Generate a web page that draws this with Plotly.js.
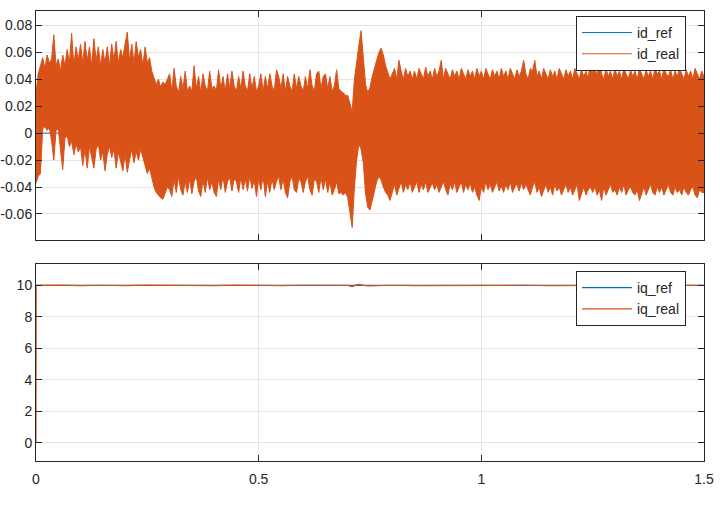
<!DOCTYPE html>
<html>
<head>
<meta charset="utf-8">
<script src="https://cdn.plot.ly/plotly-3.0.1.min.js"></script>
<style>
  html, body { margin: 0; padding: 0; background: #fff; }
  #chart { width: 720px; height: 509px; }
</style>
</head>
<body>
<div id="chart"></div>
<script>
// time grid of the id envelope samples
var tStep = 0.005;

// id_real: upper / lower excursions, one value per 5 ms
var idHi = [
  .030,.044,.050,.056,.048,.058,.052,.055,.073,.050,
  .055,.046,.058,.050,.062,.052,.074,.050,.064,.054,
  .066,.052,.068,.054,.064,.050,.070,.054,.064,.050,
  .062,.052,.064,.050,.066,.054,.068,.052,.062,.056,
  .066,.075,.054,.066,.052,.068,.056,.062,.050,.064,
  .052,.056,.046,.040,.036,.040,.034,.038,.036,.040,
  .044,.031,.048,.035,.030,.042,.033,.046,.031,.035,
  .031,.050,.033,.042,.030,.044,.035,.031,.046,.033,
  .035,.031,.047,.033,.042,.031,.044,.033,.046,.035,
  .031,.042,.033,.046,.035,.031,.044,.033,.042,.031,
  .035,.044,.031,.042,.033,.044,.035,.031,.047,.042,
  .033,.044,.031,.042,.035,.031,.044,.033,.042,.035,
  .031,.042,.033,.047,.035,.031,.044,.046,.033,.042,
  .044,.033,.042,.031,.035,.047,.033,.031,.030,.028,
  .028,.022,.016,.040,.055,.065,.076,.058,.036,.030,
  .034,.042,.048,.055,.060,.063,.058,.050,.044,.040,
  .044,.048,.040,.054,.046,.040,.048,.042,.046,.040,
  .046,.040,.048,.044,.040,.049,.042,.046,.040,.048,
  .042,.046,.054,.040,.048,.044,.040,.047,.042,.046,
  .040,.048,.044,.040,.047,.042,.046,.040,.048,.042,
  .046,.040,.048,.044,.040,.047,.042,.046,.040,.048,
  .042,.046,.040,.048,.044,.040,.047,.042,.046,.054,
  .044,.040,.048,.046,.054,.042,.046,.040,.048,.044,
  .040,.047,.042,.046,.040,.048,.044,.040,.047,.042,
  .046,.040,.048,.044,.040,.047,.042,.046,.040,.056,
  .044,.048,.042,.057,.044,.040,.048,.042,.046,.040,
  .048,.042,.046,.040,.048,.044,.040,.047,.042,.046,
  .040,.048,.044,.040,.047,.042,.046,.040,.048,.044,
  .046,.040,.048,.044,.042,.047,.040,.046,.042,.048,
  .044,.040,.047,.042,.046,.040,.048,.044,.040,.046,
  .042
];
var idLo = [
  -.037,-.032,-.030,.003,.005,.002,.004,-.006,-.020,.002,
  .003,-.012,-.027,-.004,-.002,-.010,-.006,-.016,-.008,-.014,
  -.010,-.024,-.012,-.026,-.010,-.018,-.026,-.012,-.008,-.020,
  -.014,-.028,-.016,-.010,-.018,-.012,-.026,-.014,-.022,-.028,
  -.016,-.029,-.020,-.012,-.022,-.014,-.020,-.012,-.018,-.024,
  -.030,-.026,-.034,-.040,-.044,-.046,-.048,-.049,-.044,-.040,
  -.042,-.047,-.034,-.044,-.032,-.042,-.046,-.036,-.044,-.034,
  -.045,-.036,-.032,-.043,-.047,-.035,-.044,-.033,-.042,-.036,
  -.044,-.047,-.034,-.042,-.032,-.044,-.036,-.033,-.043,-.034,
  -.036,-.044,-.033,-.042,-.034,-.043,-.032,-.041,-.035,-.047,
  -.034,-.042,-.032,-.047,-.036,-.044,-.034,-.042,-.036,-.032,
  -.042,-.034,-.044,-.048,-.036,-.032,-.042,-.044,-.034,-.036,
  -.044,-.036,-.032,-.042,-.046,-.034,-.036,-.044,-.033,-.042,
  -.034,-.044,-.036,-.046,-.042,-.036,-.045,-.044,-.046,-.044,
  -.048,-.060,-.070,-.040,-.020,-.008,-.012,-.022,-.045,-.055,
  -.057,-.050,-.042,-.036,-.032,-.035,-.040,-.044,-.046,-.050,
  -.044,-.038,-.046,-.040,-.036,-.044,-.038,-.042,-.036,-.044,
  -.040,-.036,-.044,-.038,-.042,-.036,-.044,-.040,-.037,-.042,
  -.038,-.044,-.040,-.036,-.042,-.046,-.038,-.042,-.036,-.044,
  -.040,-.036,-.044,-.038,-.042,-.037,-.044,-.040,-.046,-.050,
  -.040,-.044,-.036,-.042,-.038,-.044,-.040,-.036,-.043,-.039,
  -.044,-.038,-.042,-.036,-.044,-.040,-.038,-.043,-.037,-.042,
  -.038,-.042,-.046,-.040,-.036,-.044,-.040,-.047,-.042,-.038,
  -.044,-.040,-.046,-.038,-.043,-.040,-.046,-.042,-.038,-.044,
  -.040,-.046,-.042,-.038,-.050,-.044,-.040,-.046,-.042,-.040,
  -.044,-.040,-.046,-.042,-.050,-.040,-.046,-.042,-.038,-.044,
  -.042,-.046,-.040,-.044,-.038,-.046,-.042,-.040,-.044,-.046,
  -.042,-.050,-.044,-.040,-.046,-.042,-.038,-.044,-.046,-.040,
  -.044,-.040,-.046,-.042,-.038,-.044,-.046,-.040,-.044,-.042,
  -.046,-.040,-.044,-.046,-.042,-.040,-.046,-.048,-.042,-.044,
  -.044
];

// references
var refT = [0, 1.5];
var idRef = [0, 0];
var iqRef = [10, 10];

// iq_real
var iqT = [0, 0.0005, 0.05, 0.1, 0.15, 0.2, 0.25, 0.3, 0.35, 0.4, 0.45, 0.5, 0.55, 0.6, 0.65, 0.7,
  0.705, 0.71, 0.715, 0.72, 0.725, 0.73, 0.74, 0.75, 0.8, 0.85, 0.9, 0.95, 1.0, 1.05, 1.1,
  1.15, 1.2, 1.25, 1.3, 1.35, 1.4, 1.45, 1.5];
var iqReal = [0, 10.0, 10.02, 9.99, 10.01, 9.98, 10.02, 10.0, 10.01, 9.99, 10.02, 10.0, 9.99, 10.01, 10.0, 10.0,
  9.95, 9.92, 9.97, 10.05, 10.07, 10.04, 9.98, 9.97, 10.01, 9.99, 10.0, 10.01, 9.99, 10.0, 10.01,
  9.99, 10.0, 10.01, 9.99, 10.0, 10.01, 10.0, 10.0];

// ticks
var xTicks = [0, 0.5, 1, 1.5];
var xTickText = ["0", "0.5", "1", "1.5"];
var idTicks = [-0.06, -0.04, -0.02, 0, 0.02, 0.04, 0.06, 0.08];
var idTickText = ["-0.06", "-0.04", "-0.02", "0", "0.02", "0.04", "0.06", "0.08"];
var iqTicks = [0, 2, 4, 6, 8, 10];
var iqTickText = ["0", "2", "4", "6", "8", "10"];

var BLUE = "#0072BD";
var ORANGE = "#D95319";
var AXC = "#262626";
var FONT = "Liberation Sans, Arial, sans-serif";

var tId = idHi.map(function (v, i) { return +(i * tStep).toFixed(4); });

function axisBase() {
  return {
    showline: true,
    linecolor: AXC,
    linewidth: 1,
    mirror: "allticks",
    ticks: "inside",
    ticklen: 6,
    tickcolor: AXC,
    tickwidth: 1,
    showgrid: true,
    gridcolor: "#e4e4e4",
    gridwidth: 1,
    zeroline: false,
    fixedrange: true,
    tickfont: { family: FONT, size: 14, color: AXC },
  };
}

var data = [
  {
    x: refT, y: idRef, name: "id_ref", mode: "lines",
    line: { color: BLUE, width: 1 }, xaxis: "x", yaxis: "y", legend: "legend",
  },
  {
    x: tId, y: idHi, name: "id_real", mode: "lines", legendgroup: "idr",
    line: { color: ORANGE, width: 1 }, xaxis: "x", yaxis: "y", legend: "legend",
  },
  {
    x: tId, y: idLo, name: "id_real", mode: "lines", legendgroup: "idr", showlegend: false,
    fill: "tonexty", fillcolor: ORANGE,
    line: { color: ORANGE, width: 1 }, xaxis: "x", yaxis: "y", legend: "legend",
  },
  {
    x: refT, y: iqRef, name: "iq_ref", mode: "lines",
    line: { color: BLUE, width: 1.2 }, xaxis: "x2", yaxis: "y2", legend: "legend2",
  },
  {
    x: iqT, y: iqReal, name: "iq_real", mode: "lines",
    line: { color: ORANGE, width: 1.2 }, xaxis: "x2", yaxis: "y2", legend: "legend2",
  },
];

var xTop = Object.assign(axisBase(), {
  domain: [0, 1], range: [0, 1.5], anchor: "y",
  tickvals: xTicks, showticklabels: false,
});
var yTop = Object.assign(axisBase(), {
  domain: [0.4911, 1], range: [-0.0793, 0.0906], anchor: "x",
  tickvals: idTicks, ticktext: idTickText,
});
var xBot = Object.assign(axisBase(), {
  domain: [0, 1], range: [0, 1.5], anchor: "y2",
  tickvals: xTicks, ticktext: xTickText, ticklabelstandoff: 5,
});
var yBot = Object.assign(axisBase(), {
  domain: [0, 0.4378], range: [-1.16, 11.36], anchor: "x2",
  tickvals: iqTicks, ticktext: iqTickText,
});

var legendBase = {
  xanchor: "right", yanchor: "top",
  bgcolor: "#ffffff", bordercolor: AXC, borderwidth: 1,
  font: { family: FONT, size: 14, color: AXC },
  tracegroupgap: 0,
  itemwidth: 50,
};

var layout = {
  width: 720,
  height: 509,
  margin: { l: 36, r: 16, t: 11, b: 48 },
  paper_bgcolor: "#ffffff",
  plot_bgcolor: "#ffffff",
  showlegend: true,
  xaxis: xTop,
  yaxis: yTop,
  xaxis2: xBot,
  yaxis2: yBot,
  legend: Object.assign({ x: 0.973, y: 0.989 }, legendBase),
  legend2: Object.assign({ x: 0.973, y: 0.422 }, legendBase),
};

Plotly.newPlot("chart", data, layout, { staticPlot: true, displayModeBar: false });
</script>
</body>
</html>
